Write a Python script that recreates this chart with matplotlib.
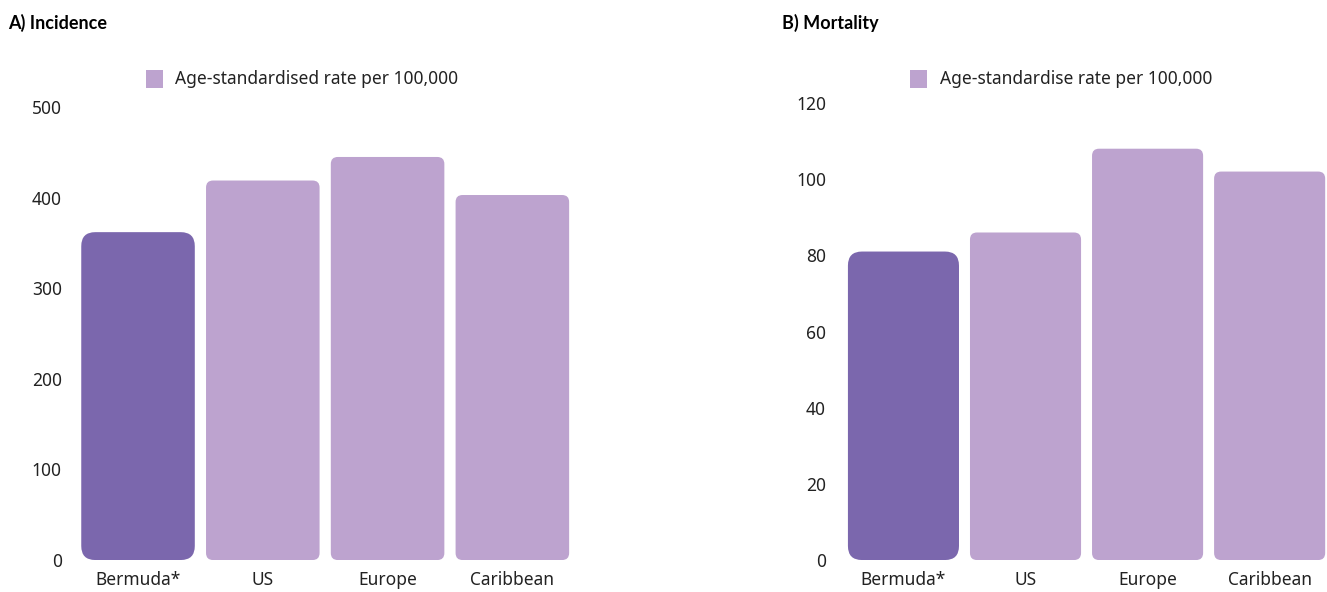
import matplotlib
matplotlib.use('Agg')
from matplotlib import pyplot as plt
from matplotlib.patches import FancyBboxPatch

# 数据
regions = ['Bermuda*', 'US', 'Europe', 'Caribbean']
incidence = [362, 419, 445, 403]
mortality = [81, 86, 108, 102]
incidence_ticks = [0, 100, 200, 300, 400, 500]
mortality_ticks = [0, 20, 40, 60, 80, 100, 120]

dark = '#7b67ad'
light = '#bda3cf'
colors = [dark, light, light, light]

plt.rcParams['font.family'] = ['Noto Sans', 'DejaVu Sans']


def rounded_bars(ax, fig, values, ymax, r_px):
    bars = ax.bar(range(len(values)), values, width=0.91, color=colors)
    fig.canvas.draw()
    bbox = ax.get_window_extent()
    x0, x1 = ax.get_xlim()
    xpp = (x1 - x0) / bbox.width
    ypp = ymax / bbox.height
    for i, b in enumerate(bars):
        b.set_visible(False)
        r = r_px * xpp if i > 0 else 2.0 * r_px * xpp
        p = FancyBboxPatch((b.get_x(), 0), b.get_width(), b.get_height(),
                           boxstyle='round,pad=0,rounding_size=%f' % r,
                           mutation_aspect=ypp / xpp,
                           facecolor=b.get_facecolor(), edgecolor='none')
        ax.add_patch(p)


def style_axis(ax, ticks, ymax):
    ax.set_ylim(0, ymax)
    ax.set_yticks(ticks)
    ax.set_xticks(range(len(regions)))
    ax.set_xticklabels(regions)
    ax.tick_params(axis='both', length=0, labelsize=12.5, colors='#222222')
    ax.tick_params(axis='y', pad=10)
    ax.tick_params(axis='x', pad=8)
    for s in ax.spines.values():
        s.set_visible(False)


fig = plt.figure(figsize=(13.27, 5.92), dpi=100)
ax1 = fig.add_axes([0.057, 0.054, 0.378, 0.765])
ax2 = fig.add_axes([0.633, 0.054, 0.367, 0.772])

ax1.set_xlim(-0.50, 3.52)
ax2.set_xlim(-0.52, 3.47)
style_axis(ax1, incidence_ticks, 500)
style_axis(ax2, mortality_ticks, 120)

rounded_bars(ax1, fig, incidence, 500, 7)
rounded_bars(ax2, fig, mortality, 120, 7)

fig.text(0.006, 0.962, 'A) Incidence', fontsize=13, fontweight='bold',
         family=['Lato', 'DejaVu Sans'], va='center')
fig.text(0.589, 0.962, 'B) Mortality', fontsize=13, fontweight='bold',
         family=['Lato', 'DejaVu Sans'], va='center')

# 图例
for x, label in [(0.110, 'Age-standardised rate per 100,000'),
                 (0.686, 'Age-standardise rate per 100,000')]:
    fig.patches.append(FancyBboxPatch((x, 0.851), 0.0125, 0.030, boxstyle='square,pad=0',
                                      transform=fig.transFigure, facecolor=light,
                                      edgecolor='none'))
    fig.text(x + 0.022, 0.866, label, fontsize=12.5, va='center', color='#222222')

plt.savefig('out.png', dpi=100)
